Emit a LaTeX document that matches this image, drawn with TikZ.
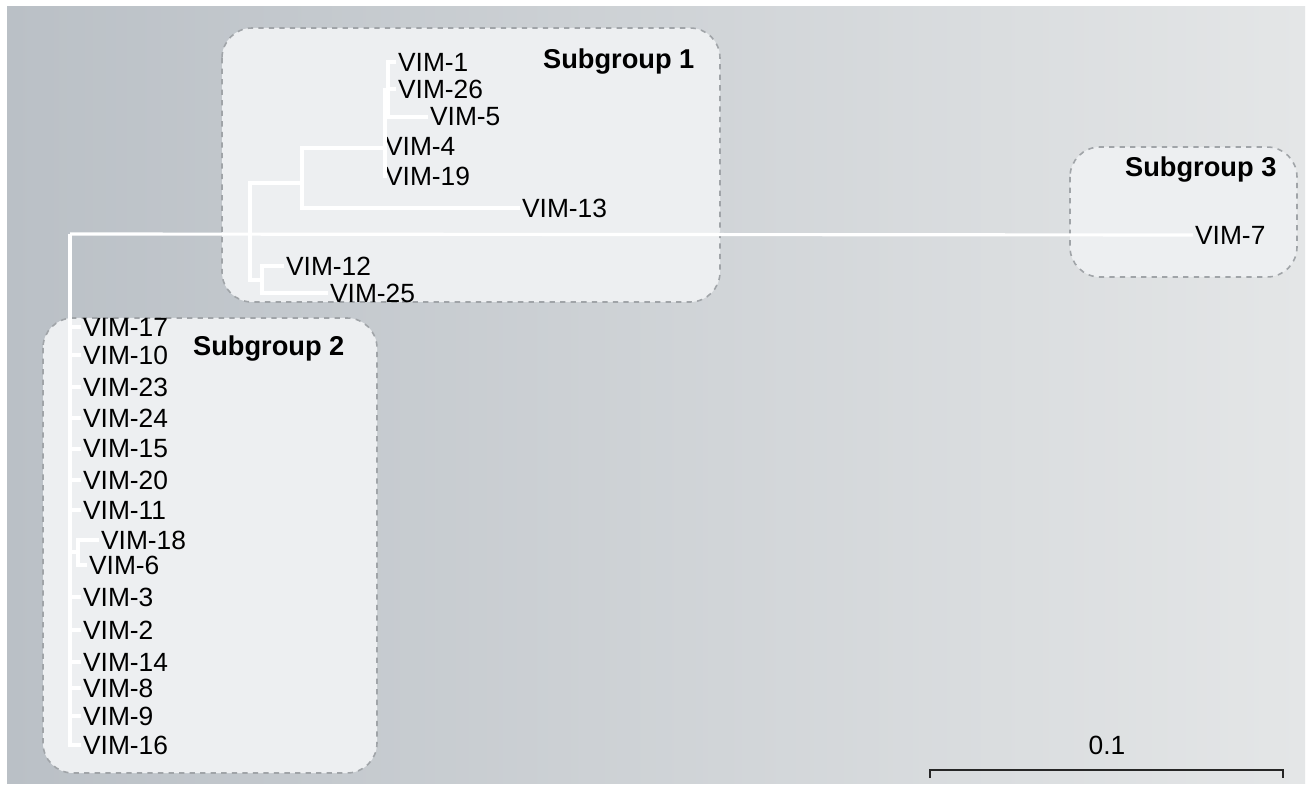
\documentclass[tikz,border=0pt]{standalone}
\usepackage{fontspec}
\setmainfont{Liberation Sans}
\definecolor{bgdark}{RGB}{186,192,198}
\definecolor{bglight}{RGB}{228,230,231}
\definecolor{boxfill}{RGB}{237,239,241}
\definecolor{boxline}{RGB}{160,164,168}

\begin{document}
\begin{tikzpicture}[x=0.02cm, y=-0.02cm,
  leaf/.style={anchor=west, inner sep=1pt, font=\fontsize{15}{18}\selectfont},
  grouplabel/.style={anchor=west, inner sep=1pt, font=\fontsize{15.5}{18}\selectfont\bfseries},
  branch/.style={draw=white, line width=1.8pt},
  groupbox/.style={draw=boxline, dashed, line width=0.9pt, rounded corners=0.6cm, fill=boxfill},
  scalebar/.style={draw=black!85, line width=1.2pt}
]
%% Background
\useasboundingbox (0,0) rectangle (1309,787);
\fill[white] (0,0) rectangle (1309,787);
\shade[left color=bgdark, right color=bglight] (7,7) rectangle (1305,783);

%% Subgroup boxes
\path[groupbox] (222,28) rectangle (720,302);
\path[groupbox] (43,318) rectangle (377,773);
\path[groupbox] (1070,147) rectangle (1297,277);

%% Subgroup labels
\node[grouplabel] at (541,62)   (sg1) {Subgroup 1};
\node[grouplabel] at (191,349)  (sg2) {Subgroup 2};
\node[grouplabel] at (1123,170) (sg3) {Subgroup 3};

%% Internal nodes of the tree
\coordinate (root) at (70,234);
\coordinate (s1)   at (250,234);
\coordinate (s1a)  at (302,183);
\coordinate (s1b)  at (262,280);
\coordinate (s1c)  at (385,148);
\coordinate (s1e)  at (388,90);
\coordinate (s2a)  at (78,552);

%% Leaves -- subgroup 1
\node[leaf] at (396,62)  (v1)  {VIM-1};
\node[leaf] at (396,89)  (v26) {VIM-26};
\node[leaf] at (428,117) (v5)  {VIM-5};
\node[leaf] at (383,146) (v4)  {VIM-4};
\node[leaf] at (383,176) (v19) {VIM-19};
\node[leaf] at (520,208) (v13) {VIM-13};
\node[leaf] at (284,266) (v12) {VIM-12};
\node[leaf] at (328,293) (v25) {VIM-25};

%% Leaves -- subgroup 3
\node[leaf] at (1193,235) (v7) {VIM-7};

%% Leaves -- subgroup 2
\node[leaf] at (81,327) (v17) {VIM-17};
\node[leaf] at (81,355) (v10) {VIM-10};
\node[leaf] at (81,387) (v23) {VIM-23};
\node[leaf] at (81,418) (v24) {VIM-24};
\node[leaf] at (81,449) (v15) {VIM-15};
\node[leaf] at (81,480) (v20) {VIM-20};
\node[leaf] at (81,510) (v11) {VIM-11};
\node[leaf] at (99,540) (v18) {VIM-18};
\node[leaf] at (87,565) (v6)  {VIM-6};
\node[leaf] at (81,597) (v3)  {VIM-3};
\node[leaf] at (81,630) (v2)  {VIM-2};
\node[leaf] at (81,662) (v14) {VIM-14};
\node[leaf] at (81,688) (v8)  {VIM-8};
\node[leaf] at (81,716) (v9)  {VIM-9};
\node[leaf] at (81,745) (v16) {VIM-16};

%% Branches
\draw[branch] (root) -- (v7.west);
\draw[branch] (s1) |- (s1a);
\draw[branch] (s1) |- (s1b);
\draw[branch] (s1a) |- (s1c);
\draw[branch] (s1a) |- (v13.west);
\draw[branch] (s1c) -- (v4.west);
\draw[branch] (s1c) |- (v19.west);
\draw[branch] (s1c) |- (s1e);
\draw[branch] (s1e) |- (v1.west);
\draw[branch] (s1e) |- (v26.west);
\draw[branch] (s1e) |- (v5.west);
\draw[branch] (s1b) |- (v12.west);
\draw[branch] (s1b) |- (v25.west);
\draw[branch] (root) |- (v17.west);
\draw[branch] (root) |- (v10.west);
\draw[branch] (root) |- (v23.west);
\draw[branch] (root) |- (v24.west);
\draw[branch] (root) |- (v15.west);
\draw[branch] (root) |- (v20.west);
\draw[branch] (root) |- (v11.west);
\draw[branch] (root) |- (s2a);
\draw[branch] (s2a) |- (v18.west);
\draw[branch] (s2a) |- (v6.west);
\draw[branch] (root) |- (v3.west);
\draw[branch] (root) |- (v2.west);
\draw[branch] (root) |- (v14.west);
\draw[branch] (root) |- (v8.west);
\draw[branch] (root) |- (v9.west);
\draw[branch] (root) |- (v16.west);

%% Scale bar
\coordinate (sbl) at (930,770);
\coordinate (sbr) at (1283,770);
\draw[scalebar] ([yshift=-0.16cm]sbl) -- (sbl) -- (sbr) -- ([yshift=-0.16cm]sbr);
\node[leaf, anchor=center] at (1107,745) (sblabel) {0.1};
\end{tikzpicture}
\end{document}
